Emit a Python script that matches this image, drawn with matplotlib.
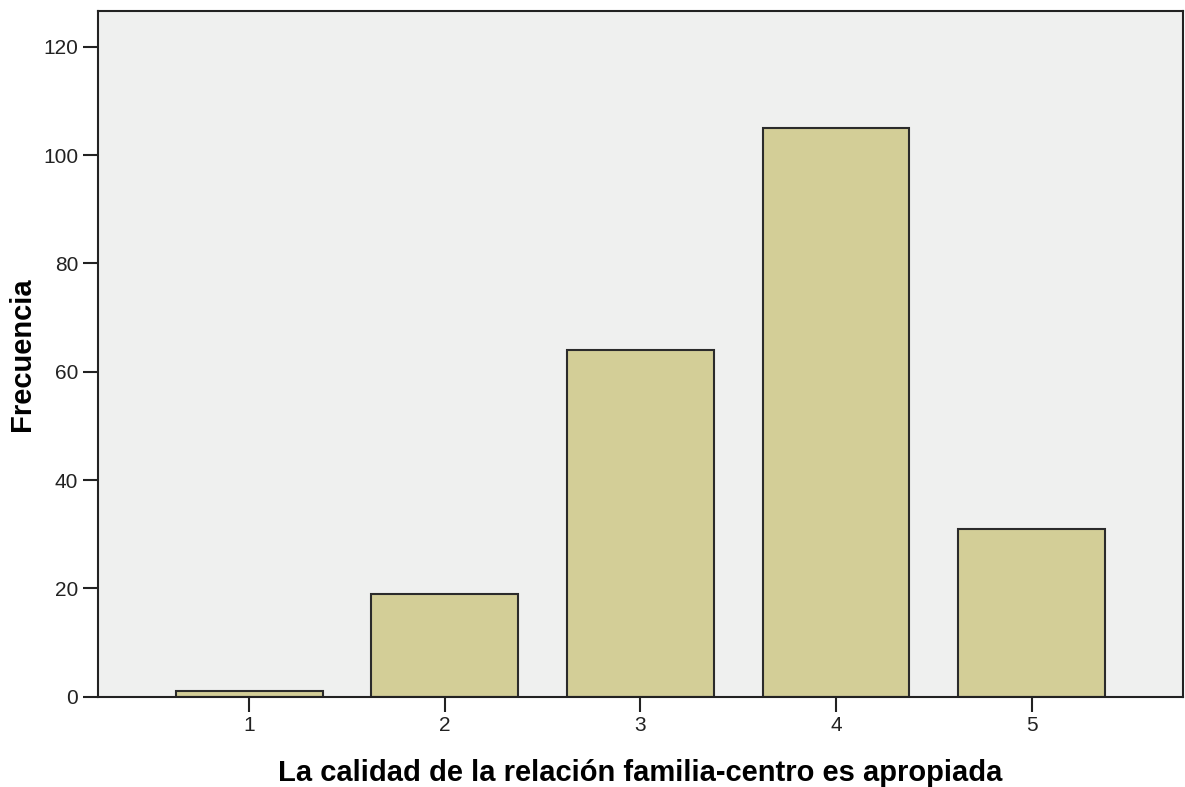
import matplotlib.pyplot as plt

plt.rcParams['font.family'] = ['Liberation Sans', 'DejaVu Sans']

# data
categorias = [1, 2, 3, 4, 5]
frecuencias = [1, 19, 64, 105, 31]
yticks = [0, 20, 40, 60, 80, 100, 120]

fig = plt.figure(figsize=(11.85, 7.87), dpi=100)
ax = fig.add_axes([0.0824, 0.1147, 0.916, 0.8713])
ax.set_facecolor('#eff0ef')

ax.bar(categorias, frecuencias, width=0.75, color='#d3ce97',
       edgecolor='#2b2b2b', linewidth=1.5)

ax.set_xlim(0.225, 5.775)
ax.set_ylim(0, 126.6)
ax.set_xticks(categorias)
ax.set_yticks(yticks)

for s in ax.spines.values():
    s.set_linewidth(1.5)
    s.set_color('#222222')

ax.tick_params(axis='both', length=11, width=1.5, color='#222222',
               labelsize=15, labelcolor='#222222', pad=3)

ax.set_xlabel('La calidad de la relación familia-centro es apropiada',
              fontsize=21, fontweight='bold', labelpad=17)
ax.set_ylabel('Frecuencia', fontsize=21, fontweight='bold', labelpad=5)

fig.savefig('out.png', dpi=100)
